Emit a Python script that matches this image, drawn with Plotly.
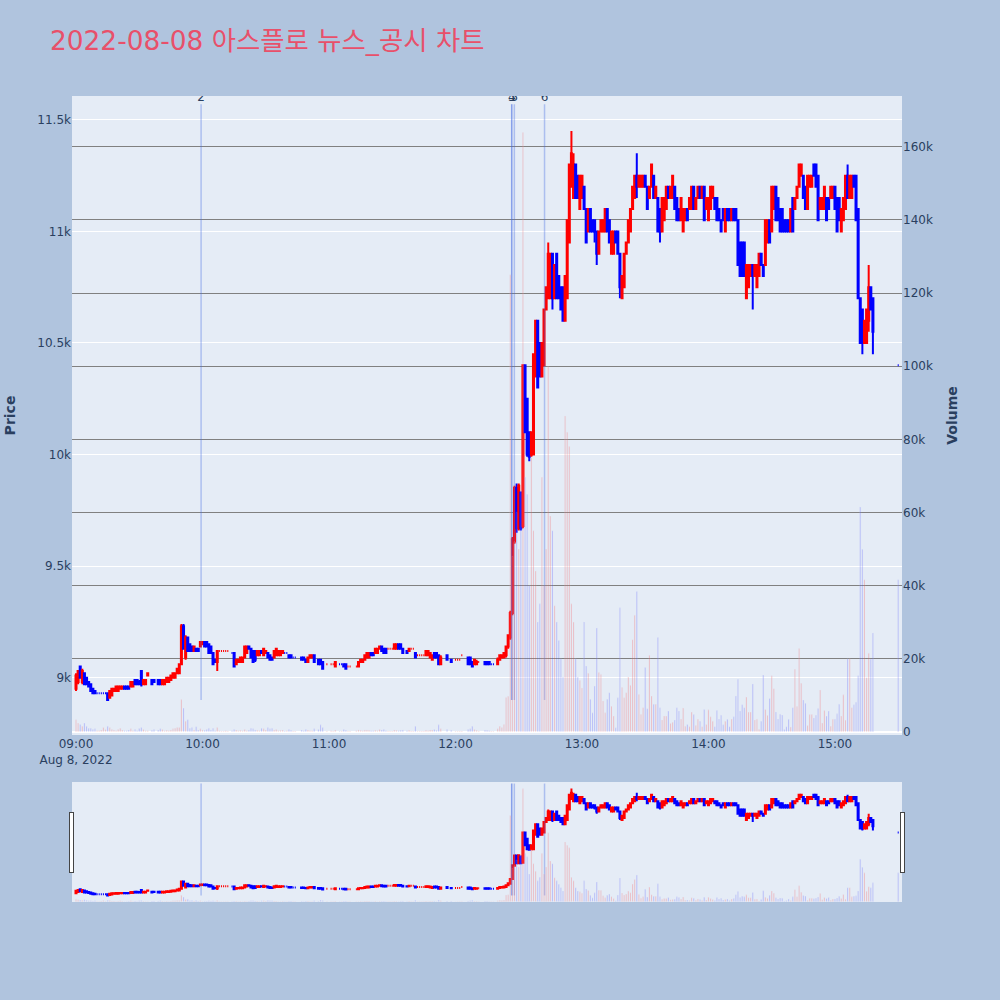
import plotly.graph_objects as go
from plotly.subplots import make_subplots
import pandas as pd

TRADE_DATE = "2022-08-08"
CHART_TITLE = "2022-08-08 아스플로 뉴스_공시 차트"

times = [
    "09:00","09:01","09:02","09:03","09:04","09:05","09:06","09:07","09:08","09:09",
    "09:10","09:11","09:12","09:13","09:14","09:15","09:16","09:17","09:18","09:19",
    "09:20","09:21","09:22","09:23","09:24","09:25","09:26","09:27","09:28","09:29",
    "09:30","09:31","09:32","09:33","09:34","09:36","09:37","09:39",
    "09:40","09:41","09:42","09:43","09:44","09:45","09:46","09:47","09:48","09:49",
    "09:50","09:51","09:52","09:53","09:54","09:55","09:56","09:57","09:58","09:59",
    "10:00","10:01","10:02","10:03","10:04","10:05","10:06","10:07","10:08","10:09",
    "10:10","10:11","10:12","10:14","10:15","10:16","10:17","10:18","10:19",
    "10:20","10:21","10:22","10:23","10:24","10:25","10:26","10:27","10:28","10:29",
    "10:30","10:31","10:32","10:33","10:34","10:35","10:36","10:37","10:38","10:39",
    "10:40","10:41","10:42","10:43","10:44","10:47","10:48","10:49",
    "10:50","10:51","10:52","10:53","10:55","10:56","10:57","10:59",
    "11:01","11:02","11:03","11:05","11:06","11:07","11:08","11:09",
    "11:10","11:13","11:14","11:15","11:16","11:17","11:18","11:19",
    "11:20","11:21","11:22","11:23","11:24","11:25","11:26","11:27","11:28","11:29",
    "11:30","11:31","11:32","11:33","11:34","11:35","11:37","11:38","11:39",
    "11:40","11:41","11:42","11:43","11:44","11:45","11:46","11:47","11:48","11:49",
    "11:50","11:51","11:52","11:53","11:56","11:58",
    "12:00","12:01","12:02","12:03","12:06","12:07","12:08","12:09",
    "12:10","12:11","12:14","12:15","12:16","12:17","12:18",
    "12:20","12:21","12:22","12:23","12:24","12:25","12:26","12:27","12:28","12:29",
    "12:30","12:31","12:32","12:33","12:34","12:35","12:36","12:37","12:38","12:39",
    "12:40","12:41","12:42","12:43","12:44","12:45","12:46","12:47","12:48","12:49",
    "12:50","12:51","12:52","12:53","12:54","12:55","12:56","12:57","12:58","12:59",
    "13:00","13:01","13:02","13:03","13:04","13:05","13:06","13:07","13:08","13:09",
    "13:10","13:11","13:12","13:13","13:14","13:15","13:16","13:17","13:18","13:19",
    "13:20","13:21","13:22","13:23","13:24","13:25","13:26","13:27","13:28","13:29",
    "13:30","13:31","13:32","13:33","13:34","13:35","13:36","13:37","13:38","13:39",
    "13:40","13:41","13:42","13:43","13:44","13:45","13:46","13:47","13:48","13:49",
    "13:50","13:51","13:52","13:53","13:54","13:55","13:56","13:57","13:58","13:59",
    "14:00","14:01","14:02","14:03","14:04","14:05","14:06","14:07","14:08","14:09",
    "14:10","14:11","14:12","14:13","14:14","14:15","14:16","14:17","14:18","14:19",
    "14:20","14:21","14:22","14:23","14:24","14:25","14:26","14:27","14:28","14:29",
    "14:30","14:31","14:32","14:33","14:34","14:35","14:36","14:37","14:38","14:39",
    "14:40","14:41","14:42","14:43","14:44","14:45","14:46","14:47","14:48","14:49",
    "14:50","14:51","14:52","14:53","14:54","14:55","14:56","14:57","14:58","14:59",
    "15:00","15:01","15:02","15:03","15:04","15:05","15:06","15:07","15:08","15:09",
    "15:10","15:11","15:12","15:13","15:14","15:15","15:16","15:17","15:18","15:30",
]

opens = [
    8950,8980,9050,8980,9020,9000,8980,8970,8950,8940,
    8930,8930,8930,8930,8930,8930,8910,8920,8940,8940,
    8940,8950,8950,8960,8960,8960,8960,8960,8990,8990,
    8980,9030,8970,8970,9010,8990,8990,8990,
    8990,8970,8970,8980,8980,8990,9000,9000,9020,9020,
    9060,9230,9090,9180,9150,9140,9120,9130,9130,9140,
    9150,9160,9160,9150,9140,9110,9080,9070,9120,9120,
    9120,9120,9120,9110,9110,9060,9070,9070,9070,
    9090,9110,9140,9130,9120,9120,9100,9100,9120,9100,
    9110,9110,9100,9090,9090,9100,9100,9100,9110,9110,
    9110,9100,9100,9090,9090,9090,9090,9080,
    9070,9090,9090,9100,9080,9080,9070,9060,
    9060,9060,9050,9060,9060,9060,9060,9050,
    9050,9050,9050,9070,9070,9080,9090,9090,
    9110,9110,9110,9110,9130,9140,9130,9130,9130,9130,
    9130,9130,9130,9150,9150,9130,9120,9120,9130,
    9130,9110,9100,9100,9100,9100,9100,9100,9090,9080,
    9110,9110,9100,9060,9100,9080,
    9080,9080,9080,9100,9090,9090,9070,9060,
    9060,9070,9070,9070,9070,9060,9060,
    9060,9080,9090,9090,9100,9140,9180,9290,9610,9850,
    9670,9830,9680,10400,10250,10100,10000,10000,10350,10600,
    10500,10350,10400,10650,10700,10700,10900,10700,10900,10800,
    10750,10750,10600,10700,10950,11200,11150,11300,11250,11100,
    11150,11200,11100,11000,11100,11050,11050,11000,10900,11000,
    11000,11000,11100,11050,10900,10900,11000,11000,10900,10700,
    10750,10900,10950,11000,11100,11150,11250,11200,11200,11200,
    11250,11200,11150,11200,11250,11150,11150,11100,11000,11050,
    11100,11200,11150,11150,11200,11150,11100,11050,11000,11050,
    11100,11100,11100,11200,11100,11150,11200,11150,11200,11100,
    11050,11100,11150,11150,11150,11100,11050,11100,11000,11100,
    11100,11050,11100,11100,11050,10950,10950,10950,10700,10750,
    10800,10850,10800,10750,10800,10900,10850,10850,10950,11050,
    11000,11100,11200,11150,11100,11100,11050,11050,11050,11000,
    11150,11100,11150,11200,11250,11250,11200,11100,11200,11200,
    11300,11300,11250,11100,11100,11100,11150,11150,11150,11150,
    11200,11150,11150,11000,11050,11100,11250,11150,11150,11250,
    11250,11100,10700,10650,10500,10500,10600,10750,10700,10400,
]

highs = [
    9020,9030,9050,9040,9020,9000,8980,8970,8950,8940,
    8930,8930,8930,8930,8930,8930,8940,8950,8950,8960,
    8960,8960,8960,8960,8960,8960,8980,8980,8990,8990,
    8990,9030,8990,8990,9020,8990,8990,8990,
    8990,8990,8990,9000,9000,9010,9020,9020,9040,9060,
    9240,9240,9190,9180,9150,9140,9140,9130,9130,9160,
    9160,9160,9160,9150,9140,9110,9080,9120,9120,9120,
    9120,9120,9120,9110,9110,9080,9080,9090,9090,
    9140,9140,9140,9130,9120,9120,9120,9120,9120,9130,
    9120,9110,9100,9090,9120,9130,9120,9120,9120,9110,
    9110,9100,9100,9090,9090,9090,9090,9080,
    9090,9100,9100,9100,9080,9080,9070,9060,
    9060,9060,9070,9060,9060,9060,9060,9050,
    9050,9050,9070,9080,9080,9100,9110,9110,
    9110,9110,9130,9130,9140,9140,9130,9130,9130,9130,
    9130,9150,9150,9150,9150,9130,9120,9130,9130,
    9130,9110,9100,9100,9100,9100,9120,9120,9110,9100,
    9110,9110,9100,9100,9100,9080,
    9080,9080,9080,9100,9090,9090,9070,9080,
    9080,9070,9070,9070,9070,9060,9060,
    9090,9100,9100,9110,9140,9190,9300,9630,9860,9870,
    9870,9830,10400,10400,10250,10100,10100,10450,10600,10600,
    10500,10500,10650,10750,10950,10900,10900,10850,10900,10800,
    10750,10750,10800,11050,11300,11450,11350,11300,11250,11250,
    11250,11200,11100,11100,11100,11050,11050,11000,11000,11050,
    11050,11100,11100,11050,11000,11000,11000,11000,10900,10800,
    10900,10950,11050,11100,11200,11250,11350,11250,11250,11250,
    11250,11200,11200,11300,11250,11200,11150,11100,11150,11150,
    11200,11200,11200,11250,11200,11150,11100,11150,11100,11100,
    11100,11150,11200,11200,11150,11200,11200,11200,11200,11150,
    11150,11200,11200,11150,11150,11100,11050,11100,11100,11100,
    11100,11100,11100,11100,11050,10950,10950,10950,10850,10850,
    10850,10850,10850,10850,10900,10900,10850,11050,11050,11050,
    11200,11200,11200,11150,11100,11100,11050,11050,11050,11100,
    11150,11150,11200,11300,11300,11250,11200,11250,11250,11250,
    11300,11300,11250,11150,11150,11200,11150,11150,11200,11200,
    11200,11150,11150,11100,11150,11250,11300,11250,11250,11250,
    11250,11100,10700,10650,10600,10650,10850,10750,10700,10400,
]

lows = [
    8940,8970,9000,8970,8970,8970,8960,8940,8930,8930,
    8930,8930,8930,8930,8930,8900,8910,8920,8940,8940,
    8940,8950,8950,8950,8950,8950,8960,8960,8970,8970,
    8970,8960,8970,8970,9010,8970,8980,8970,
    8970,8970,8970,8980,8980,8990,9000,9000,9020,9020,
    9060,9130,9080,9120,9120,9120,9120,9120,9120,9140,
    9150,9140,9140,9110,9110,9060,9070,9030,9120,9120,
    9120,9120,9120,9110,9050,9060,9070,9070,9070,
    9090,9110,9130,9090,9070,9070,9100,9100,9110,9100,
    9110,9090,9080,9080,9090,9100,9100,9100,9110,9110,
    9110,9090,9090,9090,9090,9080,9080,9070,
    9070,9090,9090,9070,9060,9060,9040,9060,
    9060,9060,9050,9060,9060,9050,9040,9050,
    9050,9050,9050,9070,9070,9080,9090,9090,
    9100,9100,9110,9110,9130,9120,9110,9110,9130,9130,
    9130,9130,9130,9130,9130,9110,9110,9120,9130,
    9130,9090,9100,9100,9100,9100,9100,9100,9090,9080,
    9090,9090,9060,9060,9080,9070,
    9080,9080,9080,9100,9060,9060,9050,9060,
    9060,9070,9060,9060,9060,9060,9060,
    9060,9080,9090,9090,9090,9130,9170,9280,9600,9650,
    9660,9660,9670,10100,9990,9970,9990,10000,10350,10300,
    10350,10350,10400,10650,10700,10700,10650,10700,10700,10700,
    10650,10600,10600,10700,10950,11200,11150,11150,11150,11100,
    11150,11100,10950,11000,11000,11000,10950,10850,10900,11000,
    11000,11000,11000,10950,10900,10900,10950,10900,10700,10700,
    10750,10900,10950,11000,11100,11150,11150,11200,11200,11200,
    11200,11100,11150,11200,11150,11150,11000,10950,11000,11050,
    11100,11150,11150,11150,11100,11050,11050,11050,11000,11050,
    11050,11100,11100,11100,11100,11150,11150,11150,11050,11100,
    11050,11100,11150,11100,11050,11050,11000,11050,11000,11050,
    11050,11050,11050,11050,10850,10800,10800,10800,10700,10750,
    10800,10650,10800,10750,10800,10850,10800,10850,10950,10950,
    11000,11100,11050,11050,11000,11000,11000,11000,11000,11000,
    11000,11100,11150,11200,11250,11150,11100,11100,11200,11200,
    11250,11200,11050,11100,11100,11100,11050,11100,11150,11150,
    11100,11000,11050,11000,11050,11100,11150,11150,11150,11200,
    11050,10700,10500,10450,10500,10500,10550,10650,10450,10400,
]

closes = [
    9010,9030,9000,9030,8970,8970,8960,8940,8930,8930,
    8930,8930,8930,8930,8930,8900,8940,8950,8950,8960,
    8960,8960,8960,8950,8950,8950,8980,8980,8970,8970,
    8970,8970,8990,8990,9020,8970,8980,8970,
    8970,8990,8990,9000,9000,9010,9020,9020,9040,9060,
    9230,9130,9180,9120,9120,9120,9140,9120,9120,9160,
    9160,9140,9140,9110,9110,9060,9070,9120,9120,9120,
    9120,9120,9120,9110,9050,9080,9080,9090,9090,
    9140,9140,9130,9090,9070,9080,9120,9120,9110,9130,
    9120,9090,9080,9080,9120,9130,9120,9120,9120,9110,
    9110,9090,9090,9090,9090,9080,9080,9070,
    9090,9100,9100,9070,9060,9060,9040,9060,
    9060,9060,9070,9060,9060,9050,9040,9050,
    9050,9050,9070,9080,9080,9100,9110,9110,
    9100,9100,9130,9130,9140,9120,9110,9110,9130,9130,
    9130,9150,9150,9130,9130,9110,9110,9130,9130,
    9130,9090,9100,9100,9100,9100,9120,9120,9110,9100,
    9090,9090,9060,9090,9080,9070,
    9080,9080,9080,9100,9060,9060,9050,9080,
    9070,9070,9060,9060,9060,9060,9060,
    9080,9100,9100,9110,9140,9190,9290,9620,9850,9670,
    9860,9670,10400,10100,10000,9990,10100,10450,10600,10300,
    10350,10500,10650,10750,10900,10900,10700,10850,10700,10700,
    10650,10600,10800,11050,11300,11350,11300,11150,11150,11250,
    11250,11100,10950,11100,11000,11000,11000,10900,11000,11050,
    11050,11100,11000,10950,11000,11000,10950,10900,10750,10800,
    10900,10950,11050,11100,11200,11250,11200,11250,11250,11250,
    11200,11100,11200,11300,11150,11200,11000,11000,11150,11150,
    11200,11150,11200,11250,11100,11050,11050,11150,11100,11100,
    11050,11150,11200,11100,11150,11200,11150,11200,11050,11150,
    11150,11200,11200,11100,11050,11050,11000,11050,11100,11050,
    11050,11100,11050,11050,10850,10800,10800,10800,10850,10850,
    10850,10800,10850,10850,10900,10850,10800,11050,11050,10950,
    11200,11200,11050,11050,11000,11000,11000,11000,11000,11100,
    11000,11150,11200,11300,11300,11150,11100,11250,11250,11250,
    11250,11200,11050,11150,11150,11200,11050,11100,11200,11200,
    11100,11000,11050,11100,11150,11250,11150,11250,11250,11200,
    11050,10700,10500,10500,10600,10650,10750,10650,10550,10400,
]

volumes = [
    3300,2400,2000,1500,2400,1500,1000,1000,600,800,
    300,300,500,1200,600,1500,1200,600,500,300,
    600,1000,500,300,300,500,800,300,600,300,
    900,1200,600,300,300,400,600,500,
    800,600,300,400,300,500,800,1000,1200,1200,
    8800,6500,2900,3300,1000,1200,500,1400,500,800,
    500,400,600,1000,500,1000,300,1200,300,200,
    200,300,200,300,600,500,300,400,300,
    600,300,500,1000,800,500,400,300,1000,800,
    500,1200,800,1000,500,600,300,400,500,200,
    300,600,400,200,200,500,300,600,
    500,300,300,800,600,1900,1200,200,
    300,200,500,200,200,600,400,200,
    200,300,500,400,300,500,500,400,
    300,300,400,300,600,500,600,300,200,200,
    200,500,400,300,400,500,300,400,200,
    200,1500,200,200,200,200,400,300,500,500,
    600,400,1900,800,600,400,
    200,200,200,200,600,800,1500,600,
    400,200,500,400,300,200,200,
    800,1500,1200,2000,9400,9700,125000,48000,52000,60000,
    50000,66000,163900,69600,65000,40000,75000,55000,44000,30000,
    35000,69600,40000,50000,100000,59000,55000,34500,30000,25000,
    20000,15000,86400,81900,78000,35000,30000,20000,15000,14000,
    12000,30000,18000,16000,8900,5200,12500,28400,16200,15700,
    8400,5200,8900,10700,7000,4300,1100,9300,33900,12100,
    9300,10700,15000,12700,25200,31900,38400,10200,4700,6600,
    17600,6300,20900,9800,7500,7500,25800,6600,3200,4300,
    4300,5700,2300,2600,3200,6600,5700,3500,6500,1500,
    2000,1400,5400,4700,1700,3400,2900,1400,6100,2000,
    6000,4100,2900,1400,5800,3500,4500,1900,2900,3400,
    1400,3500,4100,9800,14400,5700,7400,6600,9500,5400,
    5400,13100,3200,3400,600,2900,15500,6100,4500,9100,
    15300,11800,5400,3500,4800,4600,600,1400,3400,1300,
    6600,17100,6900,22800,13300,8700,7800,1700,4700,4700,
    3800,4500,6400,11400,2400,5800,4300,5700,1500,3400,
    3400,4900,7500,4300,10100,3200,20000,20000,6600,7400,
    8100,15300,61500,49900,41600,14800,21500,19900,27000,41600,
]

event_labels = ["2", "3", "4", "5", "6"]
event_times = ["09:59:20", "12:26:40", "12:26:40", "12:27:55", "12:42:15"]
event_price_span = [8900, 11570]

x_start = "08:58:06"
x_end = "15:31:48"
price_range = [8743, 11607]
volume_range = [-880, 173900]

# ---------------------------------------------------------------------------
n = len(times)
for name, arr in [("opens", opens), ("highs", highs), ("lows", lows),
                  ("closes", closes), ("volumes", volumes)]:
    if len(arr) != n:
        print("LENGTH MISMATCH", name, len(arr), n)

x = pd.to_datetime([f"{TRADE_DATE} {t}" for t in times])

bar_colors = []
prev_close = None
for o, c in zip(opens, closes):
    if c > o:
        up = True
    elif c < o:
        up = False
    else:
        up = prev_close is None or c >= prev_close
    bar_colors.append("red" if up else "blue")
    prev_close = c

FONT = "DejaVu Sans, Noto Sans CJK KR, sans-serif"

fig = make_subplots(specs=[[{"secondary_y": True}]])

fig.add_trace(
    go.Candlestick(
        x=x, open=opens, high=highs, low=lows, close=closes,
        increasing=dict(line=dict(color="red"), fillcolor="red"),
        decreasing=dict(line=dict(color="blue"), fillcolor="blue"),
        name="Price", showlegend=False,
    ),
    secondary_y=False,
)

for label, et in zip(event_labels, event_times):
    t = pd.Timestamp(f"{TRADE_DATE} {et}")
    fig.add_trace(
        go.Scatter(
            x=[t, t], y=event_price_span, mode="lines+text",
            text=["", label], textposition="top center",
            textfont=dict(color="#2a3f5f", size=12, family=FONT),
            line=dict(color="rgba(65,105,225,0.35)", width=1.5),
            showlegend=False, hoverinfo="skip",
        ),
        secondary_y=False,
    )

fig.add_trace(
    go.Bar(x=x, y=volumes, marker_color=bar_colors, opacity=0.3,
           width=30000, name="Volume", showlegend=False),
    secondary_y=True,
)

fig.update_layout(
    width=1000, height=1000,
    font=dict(family=FONT, size=12),
    title=dict(text=CHART_TITLE, font=dict(size=26.4, color="#E8506A", family=FONT),
               x=0.05, xanchor="left", y=0.959, yanchor="middle"),
    paper_bgcolor="#B0C4DE",
    plot_bgcolor="#E5ECF6",
    margin=dict(l=72, r=98, t=96, b=98),
    showlegend=False,
)
fig.update_xaxes(
    domain=[0, 1], showgrid=False,
    range=[f"{TRADE_DATE} {x_start}", f"{TRADE_DATE} {x_end}"],
    rangeslider=dict(visible=True, thickness=0.149,
                     range=[f"{TRADE_DATE} {x_start}", f"{TRADE_DATE} {x_end}"]),
)
fig.update_yaxes(title_text="<b>Price</b>", title_standoff=18, automargin=False,
                 range=price_range, gridcolor="white", secondary_y=False)
fig.update_yaxes(title_text="<b>Volume</b>", automargin=False, range=volume_range,
                 gridcolor="gray", showgrid=True, secondary_y=True)

fig.write_html("out.html", config={"displayModeBar": False},
               post_script="document.body.style.margin='0px';")
